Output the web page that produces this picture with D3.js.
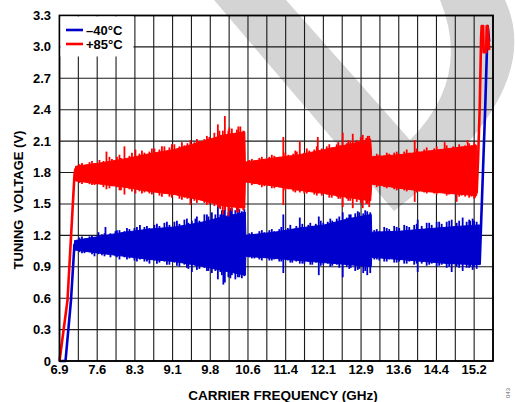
<!DOCTYPE html>
<html lang="en">
<head>
<meta charset="UTF-8">
<script src="https://cdnjs.cloudflare.com/ajax/libs/d3/7.8.5/d3.min.js"></script>
<style>
    body {
        margin: 0;
        background: #fff;
    }

    svg text {
        font-family: "Liberation Sans", Arial, sans-serif;
        font-weight: bold;
        fill: #000;
    }
</style>
</head>
<body>
<svg id="chart" width="515" height="402"></svg>
<script>
    // tick labels as printed on the chart
    var xTickLabels = ["6.9", "7.6", "8.3", "9.1", "9.8", "10.6", "11.4", "12.1", "12.9", "13.6", "14.4", "15.2"];
    var yTickValues = [0, 0.3, 0.6, 0.9, 1.2, 1.5, 1.8, 2.1, 2.4, 2.7, 3.0, 3.3];
    var xFirst = 6.9, xLast = 15.2;

    var seriesNames = ["\u201340\u00B0C", "+85\u00B0C"];
    var seriesColors = ["#0000cc", "#ff0000"];

    // -40C : ramps [GHz, V], band envelope [GHz, high, low], spikes [GHz, high, low]
    var blueRamp = [[6.9, 0], [7.02, 0], [7.13, 0.58], [7.2, 1.12]];
    var blueRampEnd = [[15.31, 0.92], [15.42, 2.4], [15.47, 3.2], [15.5, 3.05]];
    var blueBand = [
        [7.2, 1.15, 1.06], [7.7, 1.19, 1.03], [8.2, 1.23, 1.00], [8.7, 1.26, 0.97],
        [9.2, 1.28, 0.95], [9.7, 1.32, 0.91], [10.2, 1.38, 0.86], [10.62, 1.42, 0.82],
        [10.63, 1.20, 1.00], [11.2, 1.23, 0.98], [11.7, 1.27, 0.96], [12.2, 1.30, 0.94],
        [12.7, 1.36, 0.92], [13.14, 1.40, 0.90],
        [13.15, 1.23, 0.99], [13.7, 1.24, 0.97], [14.2, 1.26, 0.95], [14.7, 1.28, 0.93],
        [15.31, 1.30, 0.92]
    ];
    var blueSpikes = [
        [7.3, 1.18, 1.04], [7.4, 1.17, 1.03], [7.5, 1.19, 1.04], [7.6, 1.18, 1.00],
        [7.68, 1.23, 1.02], [7.75, 1.21, 1.01], [7.82, 1.28, 1.02], [7.92, 1.22, 0.99],
        [8.02, 1.24, 1.00], [8.1, 1.25, 0.97], [8.2, 1.24, 0.99], [8.3, 1.26, 0.98],
        [8.4, 1.27, 0.96], [8.51, 1.30, 0.97], [8.6, 1.28, 0.95], [8.7, 1.27, 0.93],
        [8.8, 1.30, 0.96], [8.9, 1.29, 0.94], [9.0, 1.32, 0.95], [9.1, 1.30, 0.92],
        [9.2, 1.33, 0.94], [9.3, 1.31, 0.90], [9.4, 1.35, 0.92], [9.48, 1.32, 0.88],
        [9.55, 1.34, 0.85], [9.62, 1.36, 0.91], [9.7, 1.34, 0.88], [9.8, 1.40, 0.89],
        [9.88, 1.38, 0.86], [9.95, 1.42, 0.84], [10.02, 1.40, 0.86], [10.07, 1.50, 0.78],
        [10.12, 1.40, 0.85], [10.18, 1.44, 0.73], [10.21, 1.51, 0.75], [10.28, 1.42, 0.80],
        [10.35, 1.46, 0.82], [10.42, 1.44, 0.78], [10.5, 1.45, 0.80], [10.55, 1.43, 0.79],
        [10.6, 1.45, 0.81],
        [7.35, 1.19, 1.03], [7.55, 1.20, 1.02], [7.8, 1.22, 1.00], [8.05, 1.25, 0.99],
        [8.25, 1.27, 0.97], [8.45, 1.28, 0.95], [8.65, 1.29, 0.95], [8.85, 1.31, 0.93],
        [9.05, 1.33, 0.92], [9.25, 1.34, 0.91], [9.45, 1.36, 0.89], [9.65, 1.38, 0.87],
        [9.85, 1.40, 0.86], [10.15, 1.44, 0.82], [10.32, 1.46, 0.79], [10.47, 1.47, 0.80],
        [10.7, 1.22, 0.99], [10.8, 1.21, 0.98], [10.9, 1.24, 0.97], [11.0, 1.23, 0.99],
        [11.1, 1.25, 0.96], [11.2, 1.24, 0.97], [11.3, 1.26, 0.95], [11.38, 1.40, 0.84],
        [11.47, 1.27, 0.96], [11.56, 1.26, 0.94], [11.64, 1.29, 0.95], [11.71, 1.37, 0.93],
        [11.8, 1.28, 0.93], [11.88, 1.30, 0.95], [11.96, 1.29, 0.92], [12.03, 1.31, 0.94],
        [12.09, 1.38, 0.82], [12.18, 1.32, 0.92], [12.27, 1.33, 0.93], [12.36, 1.34, 0.91],
        [12.45, 1.36, 0.92], [12.57, 1.42, 0.80], [12.65, 1.37, 0.90], [12.73, 1.40, 0.89],
        [12.82, 1.41, 0.86], [12.9, 1.42, 0.88], [12.98, 1.41, 0.84], [13.06, 1.43, 0.82],
        [13.12, 1.42, 0.84],
        [10.75, 1.23, 0.98], [10.95, 1.25, 0.96], [11.15, 1.26, 0.96], [11.34, 1.28, 0.95],
        [11.52, 1.30, 0.94], [11.76, 1.31, 0.93], [11.92, 1.32, 0.92], [12.13, 1.34, 0.91],
        [12.32, 1.36, 0.90], [12.5, 1.38, 0.89], [12.7, 1.40, 0.88], [12.87, 1.43, 0.87],
        [13.02, 1.44, 0.86],
        [13.2, 1.25, 0.97], [13.3, 1.24, 0.96], [13.4, 1.28, 0.95], [13.5, 1.26, 0.97],
        [13.6, 1.29, 0.94], [13.7, 1.27, 0.95], [13.8, 1.30, 0.93], [13.9, 1.28, 0.95],
        [14.0, 1.30, 0.92], [14.07, 1.35, 0.85], [14.15, 1.29, 0.93], [14.25, 1.32, 0.91],
        [14.35, 1.30, 0.93], [14.45, 1.33, 0.90], [14.55, 1.31, 0.92], [14.65, 1.33, 0.89],
        [14.75, 1.35, 0.85], [14.85, 1.32, 0.90], [14.97, 1.37, 0.86], [15.05, 1.33, 0.89],
        [15.12, 1.34, 0.90], [15.17, 1.36, 0.87], [15.25, 1.33, 0.88],
        [13.25, 1.26, 0.97], [13.45, 1.27, 0.95], [13.65, 1.28, 0.94], [13.85, 1.29, 0.93],
        [14.05, 1.31, 0.93], [14.3, 1.32, 0.92], [14.5, 1.33, 0.91], [14.7, 1.34, 0.90],
        [14.9, 1.34, 0.89], [15.1, 1.35, 0.89], [15.2, 1.34, 0.90]
    ];

    // +85C
    var redRamp = [[6.9, 0], [7.06, 0.58], [7.2, 1.78], [7.22, 1.84]];
    var redRampEnd = [[15.25, 1.6], [15.28, 1.95], [15.31, 2.4], [15.34, 3.1], [15.35, 3.2],
        [15.38, 3.2], [15.39, 2.95], [15.44, 2.95], [15.45, 3.2], [15.47, 3.2], [15.5, 2.97]];
    var redBand = [
        [7.22, 1.86, 1.72], [7.7, 1.89, 1.69], [8.2, 1.93, 1.66], [8.7, 1.98, 1.62],
        [9.2, 2.02, 1.59], [9.7, 2.09, 1.54], [10.2, 2.16, 1.48], [10.61, 2.19, 1.46],
        [10.62, 1.90, 1.71], [11.2, 1.94, 1.67], [11.7, 1.97, 1.63], [12.2, 2.02, 1.60],
        [12.7, 2.07, 1.56], [13.13, 2.12, 1.53],
        [13.15, 1.95, 1.69], [13.7, 1.97, 1.65], [14.2, 2.00, 1.62], [14.7, 2.03, 1.60],
        [15.25, 2.06, 1.58]
    ];
    var redSpikes = [
        [7.3, 1.88, 1.70], [7.4, 1.87, 1.71], [7.5, 1.90, 1.69], [7.6, 1.89, 1.68],
        [7.7, 1.92, 1.70], [7.78, 1.91, 1.66], [7.84, 2.00, 1.64], [7.95, 1.93, 1.67],
        [8.05, 1.95, 1.66], [8.13, 1.94, 1.63], [8.2, 2.05, 1.59], [8.3, 1.96, 1.64],
        [8.42, 2.02, 1.60], [8.5, 1.98, 1.62], [8.6, 1.99, 1.61], [8.7, 2.00, 1.60],
        [8.8, 2.03, 1.62], [8.9, 2.02, 1.58], [9.0, 2.05, 1.60], [9.1, 2.04, 1.57],
        [9.2, 2.07, 1.59], [9.3, 2.05, 1.55], [9.4, 2.06, 1.56], [9.46, 2.08, 1.55],
        [9.52, 2.11, 1.49], [9.6, 2.09, 1.53], [9.7, 2.10, 1.54], [9.8, 2.12, 1.51],
        [9.9, 2.14, 1.50], [10.0, 2.18, 1.48], [10.07, 2.26, 1.47], [10.12, 2.16, 1.45],
        [10.17, 2.20, 1.40], [10.21, 2.34, 1.44], [10.28, 2.20, 1.38], [10.35, 2.22, 1.43],
        [10.45, 2.21, 1.42], [10.52, 2.24, 1.46], [10.58, 2.20, 1.44],
        [7.35, 1.89, 1.69], [7.55, 1.91, 1.68], [7.9, 1.95, 1.65], [8.1, 1.97, 1.63],
        [8.35, 1.99, 1.62], [8.55, 2.01, 1.60], [8.75, 2.03, 1.59], [8.95, 2.05, 1.57],
        [9.15, 2.07, 1.56], [9.35, 2.09, 1.54], [9.65, 2.12, 1.51], [9.85, 2.15, 1.49],
        [10.1, 2.20, 1.46], [10.3, 2.23, 1.44], [10.48, 2.24, 1.42],
        [10.7, 1.92, 1.70], [10.8, 1.91, 1.69], [10.9, 1.94, 1.68], [11.0, 1.93, 1.67],
        [11.1, 1.95, 1.68], [11.2, 1.96, 1.65], [11.3, 1.95, 1.66], [11.38, 2.14, 1.49],
        [11.48, 1.97, 1.64], [11.58, 1.98, 1.62], [11.65, 2.00, 1.63], [11.71, 2.10, 1.61],
        [11.8, 1.99, 1.60], [11.9, 2.01, 1.62], [12.0, 2.02, 1.59], [12.07, 2.14, 1.60],
        [12.15, 2.03, 1.58], [12.25, 2.05, 1.59], [12.35, 2.04, 1.56], [12.45, 2.07, 1.57],
        [12.52, 2.06, 1.55], [12.57, 2.18, 1.47], [12.65, 2.08, 1.55], [12.72, 2.10, 1.53],
        [12.77, 2.17, 1.46], [12.85, 2.11, 1.52], [12.9, 2.10, 1.54], [12.97, 2.16, 1.46],
        [13.04, 2.13, 1.50], [13.1, 2.15, 1.47],
        [10.75, 1.93, 1.68], [10.95, 1.95, 1.66], [11.15, 1.97, 1.65], [11.42, 1.99, 1.63],
        [11.62, 2.01, 1.61], [11.85, 2.03, 1.60], [12.05, 2.05, 1.58], [12.3, 2.07, 1.56],
        [12.48, 2.09, 1.55], [12.68, 2.11, 1.53], [12.93, 2.14, 1.51], [13.07, 2.15, 1.50],
        [13.2, 1.96, 1.68], [13.3, 1.97, 1.67], [13.4, 1.96, 1.66], [13.5, 1.98, 1.67],
        [13.6, 1.99, 1.64], [13.7, 1.98, 1.65], [13.8, 2.00, 1.63], [13.9, 1.99, 1.64],
        [14.01, 2.11, 1.52], [14.1, 2.00, 1.62], [14.2, 2.02, 1.61], [14.3, 2.01, 1.63],
        [14.4, 2.03, 1.60], [14.5, 2.02, 1.61], [14.61, 2.09, 1.60], [14.7, 2.03, 1.59],
        [14.78, 2.05, 1.60], [14.85, 2.04, 1.52], [14.95, 2.05, 1.58], [15.02, 2.06, 1.57],
        [15.07, 2.11, 1.59], [15.15, 2.06, 1.57], [15.22, 2.07, 1.56],
        [13.25, 1.98, 1.66], [13.45, 1.99, 1.65], [13.65, 2.00, 1.63], [13.85, 2.02, 1.62],
        [14.05, 2.03, 1.61], [14.25, 2.04, 1.60], [14.45, 2.05, 1.59], [14.65, 2.06, 1.58],
        [14.9, 2.07, 1.57], [15.1, 2.08, 1.56], [15.2, 2.09, 1.55]
    ];

    var svg = d3.select("#chart");
    var plot = {left: 59.5, right: 493, top: 15.5, bottom: 361};

    var labelStep = (xLast - xFirst) / (xTickLabels.length - 1);
    // grid has a line every half label step, one extra half step after the last label
    var gridCount = (xTickLabels.length - 1) * 2 + 1;
    var x = d3.scaleLinear()
        .domain([xFirst, xFirst + gridCount * labelStep / 2])
        .range([plot.left, plot.right]);
    var y = d3.scaleLinear()
        .domain([0, 3.3])
        .range([plot.bottom, plot.top]);

    // light grey watermark behind the plot
    svg.append("path")
        .attr("d", "M214,0 L286,0 L410,140 Q472,78 440,0 L505,0 Q548,92 394,211 Z")
        .attr("fill", "#d4d4d4");

    // grid
    var xGrid = d3.range(gridCount + 1).map(function (i) { return xFirst + i * labelStep / 2; });
    svg.append("g").selectAll("line")
        .data(xGrid)
        .enter().append("line")
        .attr("x1", function (d) { return x(d); })
        .attr("x2", function (d) { return x(d); })
        .attr("y1", plot.top)
        .attr("y2", plot.bottom)
        .attr("stroke", "#1a1a1a")
        .attr("stroke-width", 1.1);
    svg.append("g").selectAll("line")
        .data(yTickValues)
        .enter().append("line")
        .attr("x1", plot.left)
        .attr("x2", plot.right)
        .attr("y1", function (d) { return y(d); })
        .attr("y2", function (d) { return y(d); })
        .attr("stroke", "#1a1a1a")
        .attr("stroke-width", 1.1);

    // tick labels
    svg.append("g").selectAll("text")
        .data(xTickLabels)
        .enter().append("text")
        .attr("x", function (d, i) { return x(xFirst + i * labelStep); })
        .attr("y", 374)
        .attr("text-anchor", "middle")
        .attr("font-size", "13px")
        .text(function (d) { return d; });
    svg.append("g").selectAll("text")
        .data(yTickValues)
        .enter().append("text")
        .attr("x", 51)
        .attr("y", function (d) { return y(d) + 4.5; })
        .attr("text-anchor", "end")
        .attr("font-size", "13px")
        .text(function (d) { return d === 0 ? "0" : d3.format(".1f")(d); });

    // axis titles
    svg.append("text")
        .attr("x", 283)
        .attr("y", 400)
        .attr("text-anchor", "middle")
        .attr("font-size", "13.5px")
        .text("CARRIER FREQUENCY (GHz)");
    svg.append("text")
        .attr("transform", "translate(23,200) rotate(-90)")
        .attr("text-anchor", "middle")
        .attr("font-size", "13px")
        .attr("xml:space", "preserve")
        .style("white-space", "pre")
        .text("TUNING  VOLTAGE (V)");

    svg.append("text")
        .attr("transform", "translate(510,398) rotate(-90)")
        .attr("font-size", "6px")
        .style("font-weight", "normal")
        .style("fill", "#666")
        .text("043");

    // traces
    var line = d3.line()
        .x(function (d) { return x(d[0]); })
        .y(function (d) { return y(d[1]); });
    var area = d3.area()
        .x(function (d) { return x(d[0]); })
        .y0(function (d) { return y(d[2]); })
        .y1(function (d) { return y(d[1]); });

    function drawTrace(ramp, rampEnd, band, spikes, color) {
        var g = svg.append("g");
        g.append("path")
            .attr("d", area(band))
            .attr("fill", color)
            .attr("stroke", color)
            .attr("stroke-width", 1);
        g.selectAll("line")
            .data(spikes)
            .enter().append("line")
            .attr("x1", function (d) { return x(d[0]); })
            .attr("x2", function (d) { return x(d[0]); })
            .attr("y1", function (d) { return y(d[1]); })
            .attr("y2", function (d) { return y(d[2]); })
            .attr("stroke", color)
            .attr("stroke-width", 1.8);
        [ramp, rampEnd].forEach(function (r) {
            g.append("path")
                .attr("d", line(r))
                .attr("fill", "none")
                .attr("stroke", color)
                .attr("stroke-width", 2.6)
                .attr("stroke-linejoin", "round");
        });
    }

    drawTrace(blueRamp, blueRampEnd, blueBand, blueSpikes, seriesColors[0]);
    drawTrace(redRamp, redRampEnd, redBand, redSpikes, seriesColors[1]);

    // plot frame
    svg.append("rect")
        .attr("x", plot.left)
        .attr("y", plot.top)
        .attr("width", plot.right - plot.left)
        .attr("height", plot.bottom - plot.top)
        .attr("fill", "none")
        .attr("stroke", "#000")
        .attr("stroke-width", 1.8);

    // legend
    var legend = svg.append("g");
    legend.append("rect")
        .attr("x", plot.left + 1)
        .attr("y", plot.top + 1)
        .attr("width", 73)
        .attr("height", 40)
        .attr("fill", "#fff");
    seriesNames.forEach(function (name, i) {
        var ly = 30 + i * 14;
        legend.append("line")
            .attr("x1", 66).attr("x2", 83)
            .attr("y1", ly).attr("y2", ly)
            .attr("stroke", seriesColors[i])
            .attr("stroke-width", 2.6);
        legend.append("text")
            .attr("x", 86)
            .attr("y", ly + 4.5)
            .attr("font-size", "13px")
            .text(name);
    });
</script>
</body>
</html>
